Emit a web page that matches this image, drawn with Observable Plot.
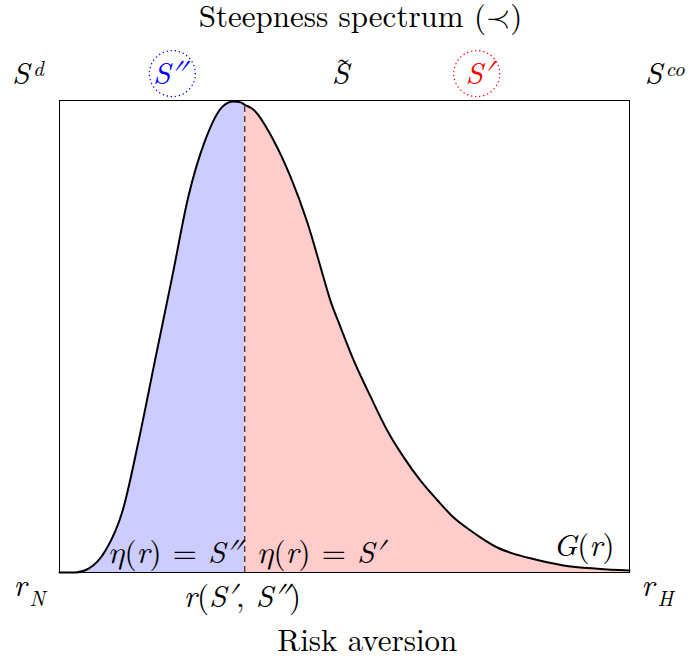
<!DOCTYPE html>
<html>
<head>
<meta charset="utf-8">
<script src="https://cdn.jsdelivr.net/npm/d3@7"></script>
<script src="https://cdn.jsdelivr.net/npm/@observablehq/plot@0.6"></script>
<style>
  body { margin: 0; background: #fff; }
</style>
</head>
<body>
<div id="chart"></div>
<script>
// Density curve G(r) (r: 0..100, G: 0..100)
const rValues = [0, 2.8, 5.1, 8.1, 11.1, 13.9, 16.8, 19.8, 22.6, 25.6, 28.6, 30.5, 31.8, 32.5, 34.0, 37.5, 40.5, 43.5, 46.3, 47.5, 49.3, 51.6, 54.6, 57.5, 60.4, 63.3, 66.3, 69.1, 72.1, 73.9, 76.8, 79.6, 82.6, 88.4, 94.4, 100];
const gValues = [0, 0, 0.8, 4.7, 13.2, 28.0, 45.2, 62.8, 79.6, 91.7, 98.7, 99.8, 99.6, 99.1, 98.1, 91.7, 83.9, 74.1, 62.6, 57.7, 52.0, 45.0, 37.2, 30.1, 24.4, 19.5, 15.3, 11.7, 8.9, 7.4, 5.3, 4.0, 3.0, 1.5, 0.8, 0.4];
const splitR = 32.5; // r(S', S'')

// Annotation texts
const titleText = "Steepness spectrum (≺)";
const xLabelText = "Risk aversion";
const topLabels = ["S", "S″", "S", "S′", "S"];
const topLabelX = [-6.8, 19.3, 49.3, 73.6, 104.2];
const topLabelColor = ["black", "blue", "black", "red", "black"];
const circleX = [19.8, 73.2];
const topSup = ["d", "co"];
const topSupX = [-3.7, 108.0];
const tildeText = "˜";
const tildeX = 49.8;
const bottomLabels = ["r", "r(S′, S″)", "r"];
const bottomLabelX = [-6.9, 32.1, 103.2];
const bottomSub = ["N", "H"];
const bottomSubX = [-3.9, 106.3];
const regionLabels = ["η(r) = S″", "η(r) = S′"];
const regionLabelX = [20.2, 45.8];
const curveLabel = "G(r)";

const serif = "'Latin Modern Roman', 'Latin Modern Math', 'DejaVu Serif', 'Liberation Serif', serif";

const pts = rValues.map((r, i) => ({r, g: gValues[i]}));
const left = pts.filter(d => d.r <= splitR);
const right = pts.filter(d => d.r >= splitR);
const splitPt = pts.find(d => d.r === splitR);

const fs = 31;
const fsSub = 21;
const T = {fontFamily: serif, fill: "black", lineAnchor: "bottom"};

const topData = topLabels.map((t, i) => ({t, x: topLabelX[i], c: topLabelColor[i]}));
const circles = topData.filter(d => d.c !== "black").map((d, i) => ({...d, x: circleX[i]}));

const chart = Plot.plot({
  width: 692,
  height: 661,
  marginLeft: 59,
  marginRight: 63,
  marginTop: 100,
  marginBottom: 89,
  x: {domain: [0, 100], axis: null},
  y: {domain: [0, 100], axis: null},
  style: {fontFamily: serif, background: "white"},
  marks: [
    Plot.areaY(left, {x: "r", y: "g", fill: "#ccccff", curve: "monotone-x"}),
    Plot.areaY(right, {x: "r", y: "g", fill: "#ffcccc", curve: "monotone-x"}),
    Plot.ruleX([splitPt], {x: "r", y1: 0, y2: "g", stroke: "black", strokeWidth: 1, strokeDasharray: "6,4"}),
    Plot.line(pts, {x: "r", y: "g", stroke: "black", strokeWidth: 2, curve: "monotone-x"}),
    Plot.frame({stroke: "black", strokeWidth: 1}),
    // title & axis label
    Plot.text([titleText], {...T, x: 52.8, y: 115.5, text: d => d, fontSize: fs}),
    Plot.text([xLabelText], {...T, x: 54, y: -16.6, text: d => d, fontSize: fs}),
    // top labels
    Plot.dot(circles, {x: "x", y: 105.7, r: 23, fill: "none", stroke: "c", strokeWidth: 1.4, strokeDasharray: "0.1,4", strokeLinecap: "round"}),
    Plot.text(topData, {...T, x: "x", y: 103.4, text: "t", fill: "c", fontSize: fs, fontStyle: "italic"}),
    Plot.text([tildeText], {...T, x: tildeX, y: 104.3, text: d => d, fontSize: fs}),
    Plot.text(topSup, {...T, x: (d, i) => topSupX[i], y: 105.1, text: d => d, fontSize: fsSub, fontStyle: "italic"}),
    // bottom labels
    Plot.text(bottomLabels, {...T, x: (d, i) => bottomLabelX[i], y: (d, i) => i === 1 ? -7.4 : -4.9, text: d => d, fontSize: fs, fontStyle: "italic"}),
    Plot.text(bottomSub, {...T, x: (d, i) => bottomSubX[i], y: -7.0, text: d => d, fontSize: fsSub, fontStyle: "italic"}),
    // region labels
    Plot.text(regionLabels, {...T, x: (d, i) => regionLabelX[i], y: 2.1, text: d => d, fontSize: fs, fontStyle: "italic"}),
    Plot.text([curveLabel], {...T, x: 92, y: 3.4, text: d => d, fontSize: fs, fontStyle: "italic"})
  ]
});

// force the serif family on every text, and set math punctuation upright
d3.select(chart).selectAll("text").each(function () {
  this.style.fontFamily = serif;
  const g = this.closest("g");
  const italic = g && g.getAttribute("font-style") === "italic";
  if (!italic) return;
  const s = this.textContent;
  if (!/[()=,]/.test(s)) return;
  this.textContent = "";
  for (const part of s.match(/[()=,]+|[^()=,]+/g)) {
    const ts = document.createElementNS("http://www.w3.org/2000/svg", "tspan");
    ts.textContent = part;
    if (/[()=,]/.test(part)) ts.setAttribute("font-style", "normal");
    this.appendChild(ts);
  }
});
document.getElementById("chart").appendChild(chart);
</script>
</body>
</html>
